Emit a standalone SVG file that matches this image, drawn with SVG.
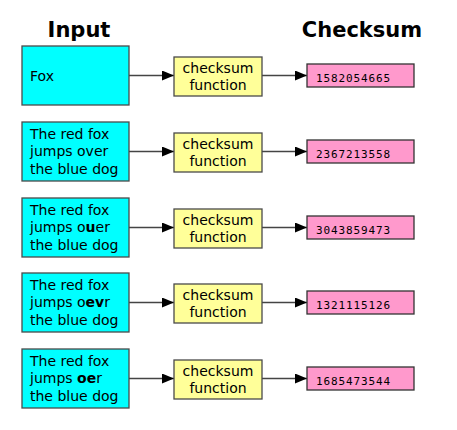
<svg xmlns="http://www.w3.org/2000/svg" width="457" height="430" viewBox="0 0 457 430">
  <style>
    .title { font-family: "DejaVu Sans", sans-serif; font-weight: bold; font-size: 21px; fill: #000; text-anchor: middle; }
    .in { fill: #00ffff; stroke: #4a4a4a; stroke-width: 1.3; }
    .fn { fill: #ffff99; stroke: #4a4a4a; stroke-width: 1.3; }
    .out { fill: #ff99cc; stroke: #333; stroke-width: 1.3; }
    .txt { font-family: "DejaVu Sans", sans-serif; font-size: 14px; fill: #000; }
    .fntxt { font-family: "DejaVu Sans", sans-serif; font-size: 14px; fill: #000; text-anchor: middle; }
    .num { font-family: "DejaVu Sans Mono", monospace; font-size: 11px; fill: #000; }
    .b { font-weight: bold; }
    .conn { stroke: #444; stroke-width: 1.4; fill: none; marker-end: url(#arrow); }
  </style>
  <defs>
    <marker id="arrow" markerWidth="12" markerHeight="10" refX="12" refY="5" orient="auto" markerUnits="userSpaceOnUse">
      <path d="M0,0 L12,5 L0,10 Z" fill="#000"/>
    </marker>
  </defs>
  <rect width="457" height="430" fill="#fff"/>

  <text class="title" x="79" y="37">Input</text>
  <text class="title" x="362" y="37">Checksum</text>

  <g id="connectors">
    <line class="conn" x1="129" y1="75.5" x2="174" y2="75.5"/>
    <line class="conn" x1="262" y1="75.5" x2="307" y2="75.5"/>
    <line class="conn" x1="129" y1="151.5" x2="174" y2="151.5"/>
    <line class="conn" x1="262" y1="151.5" x2="307" y2="151.5"/>
    <line class="conn" x1="129" y1="227.5" x2="174" y2="227.5"/>
    <line class="conn" x1="262" y1="227.5" x2="307" y2="227.5"/>
    <line class="conn" x1="129" y1="302.5" x2="174" y2="302.5"/>
    <line class="conn" x1="262" y1="302.5" x2="307" y2="302.5"/>
    <line class="conn" x1="129" y1="378.5" x2="174" y2="378.5"/>
    <line class="conn" x1="262" y1="378.5" x2="307" y2="378.5"/>
  </g>

  <!-- row 1 -->
  <g id="input1">
    <rect class="in" x="22" y="46" width="107" height="59"/>
    <text class="txt" x="30" y="80.5">Fox</text>
  </g>
  <g id="func1">
    <rect class="fn" x="174" y="57" width="88" height="39"/>
    <text class="fntxt" x="218" y="72.5">checksum</text>
    <text class="fntxt" x="218" y="90">function</text>
  </g>
  <g id="sum1">
    <rect class="out" x="307" y="64" width="107" height="23"/>
    <text class="num" x="316" y="81.5" textLength="74" lengthAdjust="spacing">1582054665</text>
  </g>

  <!-- row 2 -->
  <g id="input2">
    <rect class="in" x="22" y="122" width="107" height="59"/>
    <text class="txt" x="30" y="138.5">The red fox</text>
    <text class="txt" x="30" y="156">jumps over</text>
    <text class="txt" x="30" y="173.5">the blue dog</text>
  </g>
  <g id="func2">
    <rect class="fn" x="174" y="133" width="88" height="39"/>
    <text class="fntxt" x="218" y="148.5">checksum</text>
    <text class="fntxt" x="218" y="166">function</text>
  </g>
  <g id="sum2">
    <rect class="out" x="307" y="140" width="107" height="23"/>
    <text class="num" x="316" y="157.5" textLength="74" lengthAdjust="spacing">2367213558</text>
  </g>

  <!-- row 3 -->
  <g id="input3">
    <rect class="in" x="22" y="198" width="107" height="59"/>
    <text class="txt" x="30" y="214.5">The red fox</text>
    <text class="txt" x="30" y="232">jumps o<tspan class="b">u</tspan>er</text>
    <text class="txt" x="30" y="249.5">the blue dog</text>
  </g>
  <g id="func3">
    <rect class="fn" x="174" y="209" width="88" height="39"/>
    <text class="fntxt" x="218" y="224.5">checksum</text>
    <text class="fntxt" x="218" y="242">function</text>
  </g>
  <g id="sum3">
    <rect class="out" x="307" y="216" width="107" height="23"/>
    <text class="num" x="316" y="233.5" textLength="74" lengthAdjust="spacing">3043859473</text>
  </g>

  <!-- row 4 -->
  <g id="input4">
    <rect class="in" x="22" y="273" width="107" height="59"/>
    <text class="txt" x="30" y="289.5">The red fox</text>
    <text class="txt" x="30" y="307">jumps o<tspan class="b">ev</tspan>r</text>
    <text class="txt" x="30" y="324.5">the blue dog</text>
  </g>
  <g id="func4">
    <rect class="fn" x="174" y="284" width="88" height="39"/>
    <text class="fntxt" x="218" y="299.5">checksum</text>
    <text class="fntxt" x="218" y="317">function</text>
  </g>
  <g id="sum4">
    <rect class="out" x="307" y="291" width="107" height="23"/>
    <text class="num" x="316" y="308.5" textLength="74" lengthAdjust="spacing">1321115126</text>
  </g>

  <!-- row 5 -->
  <g id="input5">
    <rect class="in" x="22" y="349" width="107" height="59"/>
    <text class="txt" x="30" y="365.5">The red fox</text>
    <text class="txt" x="30" y="383">jumps <tspan class="b">oe</tspan>r</text>
    <text class="txt" x="30" y="400.5">the blue dog</text>
  </g>
  <g id="func5">
    <rect class="fn" x="174" y="360" width="88" height="39"/>
    <text class="fntxt" x="218" y="375.5">checksum</text>
    <text class="fntxt" x="218" y="393">function</text>
  </g>
  <g id="sum5">
    <rect class="out" x="307" y="367" width="107" height="23"/>
    <text class="num" x="316" y="384.5" textLength="74" lengthAdjust="spacing">1685473544</text>
  </g>
</svg>
